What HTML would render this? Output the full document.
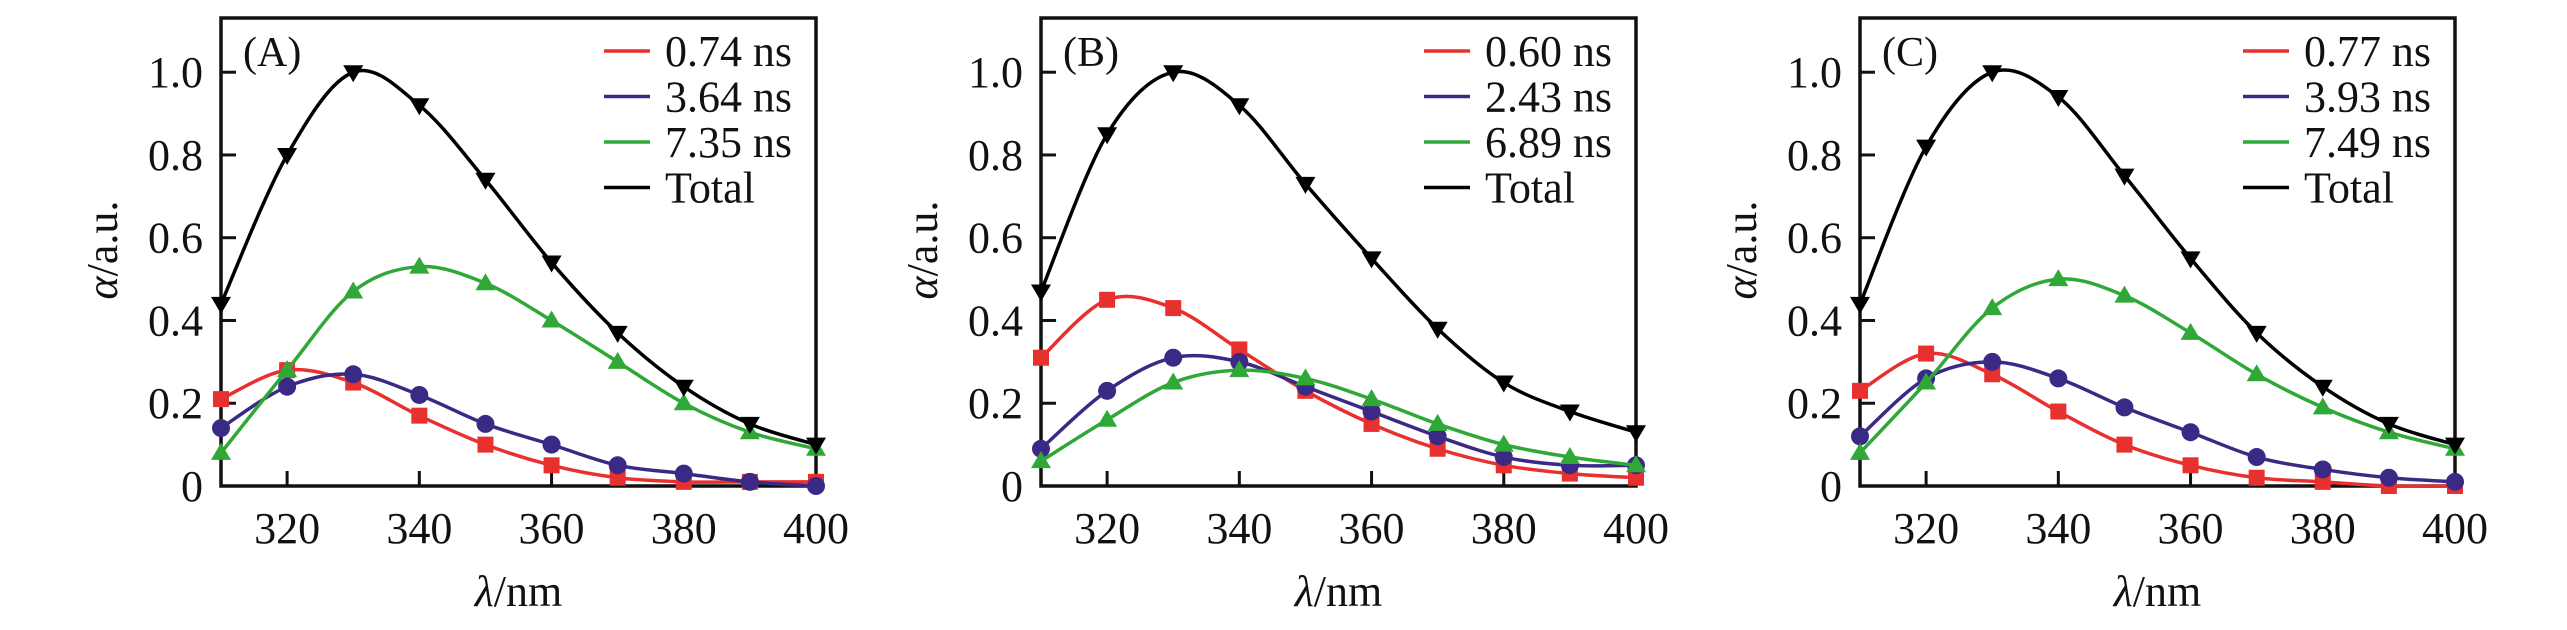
<!DOCTYPE html>
<html><head><meta charset="utf-8"><style>
html,body{margin:0;padding:0;background:#fff;}
svg{display:block;}
svg text{font-family:"Liberation Serif","Times New Roman","DejaVu Serif",serif;}
</style></head><body>
<svg id="chart" width="2567" height="630" viewBox="0 0 2567 630" xmlns="http://www.w3.org/2000/svg" font-family="Liberation Serif, DejaVu Serif, serif"></svg>
<script>
const wavelengths = [310,320,330,340,350,360,370,380,390,400];
const xTicks = [320,340,360,380,400];
const yTicks = [0,0.2,0.4,0.6,0.8,1.0];
const yTickLabels = ["0","0.2","0.4","0.6","0.8","1.0"];
const panelLabels = ["(A)","(B)","(C)"];
const legendA = ["0.74 ns","3.64 ns","7.35 ns","Total"];
const legendB = ["0.60 ns","2.43 ns","6.89 ns","Total"];
const legendC = ["0.77 ns","3.93 ns","7.49 ns","Total"];
const redA   = [0.21,0.28,0.25,0.17,0.10,0.05,0.02,0.01,0.01,0.01];
const blueA  = [0.14,0.24,0.27,0.22,0.15,0.10,0.05,0.03,0.01,0.00];
const greenA = [0.08,0.28,0.47,0.53,0.49,0.40,0.30,0.20,0.13,0.09];
const totalA = [0.44,0.80,1.00,0.92,0.74,0.54,0.37,0.24,0.15,0.10];
const redB   = [0.31,0.45,0.43,0.33,0.23,0.15,0.09,0.05,0.03,0.02];
const blueB  = [0.09,0.23,0.31,0.30,0.24,0.18,0.12,0.07,0.05,0.05];
const greenB = [0.06,0.16,0.25,0.28,0.26,0.21,0.15,0.10,0.07,0.05];
const totalB = [0.47,0.85,1.00,0.92,0.73,0.55,0.38,0.25,0.18,0.13];
const redC   = [0.23,0.32,0.27,0.18,0.10,0.05,0.02,0.01,0.00,0.00];
const blueC  = [0.12,0.26,0.30,0.26,0.19,0.13,0.07,0.04,0.02,0.01];
const greenC = [0.08,0.25,0.43,0.50,0.46,0.37,0.27,0.19,0.13,0.09];
const totalC = [0.44,0.82,1.00,0.94,0.75,0.55,0.37,0.24,0.15,0.10];

const NS="http://www.w3.org/2000/svg";
const FF="Liberation Serif, DejaVu Serif, serif";
const svg=document.getElementById('chart');
function el(tag,attrs,parent){const e=document.createElementNS(NS,tag);for(const k in attrs)e.setAttribute(k,attrs[k]);if(tag==='text')e.setAttribute('font-family',FF);(parent||svg).appendChild(e);return e;}
const colors=["#e8312e","#3a2a86","#2fa838","#000000"];
const markers=["square","circle","up","down"];

function panel(idx,left,series,legend){
  const right=left+595, top=18, bottom=486;
  const X=v=>left+(v-310)/90*(right-left);
  const Y=v=>bottom-v*413.8;
  const g=el('g',{});
  
  
  const frame=el('rect',{x:left,y:top,width:right-left,height:bottom-top,fill:'none',stroke:'#111','stroke-width':3.5},g);
  
  
  xTicks.forEach(t=>{
    el('line',{x1:X(t),x2:X(t),y1:bottom,y2:bottom-15,stroke:'#111','stroke-width':3},g);
    const tx=el('text',{x:X(t),y:543,'font-size':44,'text-anchor':'middle',fill:'#111'},g);
    tx.textContent=t;
    
    
  });
  yTicks.forEach((t,i)=>{
    if(t>0) el('line',{x1:left,x2:left+15,y1:Y(t),y2:Y(t),stroke:'#111','stroke-width':3},g);
    const ty=el('text',{x:left-18,y:Y(t)+15,'font-size':44,'text-anchor':'end',fill:'#111'},g);
    ty.textContent=yTickLabels[i];
    
    
  });
  const xt=el('text',{x:(left+right)/2,y:606,'font-size':44,'text-anchor':'middle',fill:'#111'},g);
  xt.innerHTML='<tspan font-style="italic">λ</tspan>/nm';
  
  
  const yt=el('text',{x:0,y:0,'font-size':44,'text-anchor':'middle',fill:'#111',transform:`translate(${left-104},250) rotate(-90)`},g);
  yt.innerHTML='<tspan font-style="italic">α</tspan>/a.u.';
  
  
  const pl=el('text',{x:left+22,y:66,'font-size':42,fill:'#111'},g);
  pl.textContent=panelLabels[idx];
  
  
  series.forEach((vals,s)=>{
    const pts=wavelengths.map((w,i)=>[X(w),Y(vals[i])]);
    let d='M'+pts[0][0]+','+pts[0][1];
    for(let i=0;i<pts.length-1;i++){
      const p0=pts[Math.max(0,i-1)],p1=pts[i],p2=pts[i+1],p3=pts[Math.min(pts.length-1,i+2)];
      const c1=[p1[0]+(p2[0]-p0[0])/6,p1[1]+(p2[1]-p0[1])/6];
      const c2=[p2[0]-(p3[0]-p1[0])/6,p2[1]-(p3[1]-p1[1])/6];
      d+=` C${c1[0]},${c1[1]} ${c2[0]},${c2[1]} ${p2[0]},${p2[1]}`;
    }
    const path=el('path',{d:d,fill:'none',stroke:colors[s],'stroke-width':3.5},g);
    
    
    pts.forEach(p=>{
      let m;const r=10;
      if(markers[s]==='square') m=el('rect',{x:p[0]-8,y:p[1]-8,width:16,height:16,fill:colors[s]},g);
      else if(markers[s]==='circle') m=el('circle',{cx:p[0],cy:p[1],r:9,fill:colors[s]},g);
      else if(markers[s]==='up') m=el('polygon',{points:`${p[0]},${p[1]-r} ${p[0]-r},${p[1]+7} ${p[0]+r},${p[1]+7}`,fill:colors[s]},g);
      else m=el('polygon',{points:`${p[0]},${p[1]+r} ${p[0]-r},${p[1]-7} ${p[0]+r},${p[1]-7}`,fill:colors[s]},g);
      
      
    });
  });
  legend.forEach((lab,i)=>{
    const yy=51+i*45.5, lx=left+383;
    const ln=el('line',{x1:lx,x2:lx+46,y1:yy,y2:yy,stroke:colors[i],'stroke-width':3.5},g);
    
    
    const lt=el('text',{x:lx+61,y:yy+15,'font-size':44,fill:'#111',textLength:lab==='Total'?90:127,lengthAdjust:'spacingAndGlyphs'},g);
    lt.textContent=lab;
    
    
  });
}
panel(0,221,[redA,blueA,greenA,totalA],legendA);
panel(1,1041,[redB,blueB,greenB,totalB],legendB);
panel(2,1860,[redC,blueC,greenC,totalC],legendC);
</script>
</body></html>
